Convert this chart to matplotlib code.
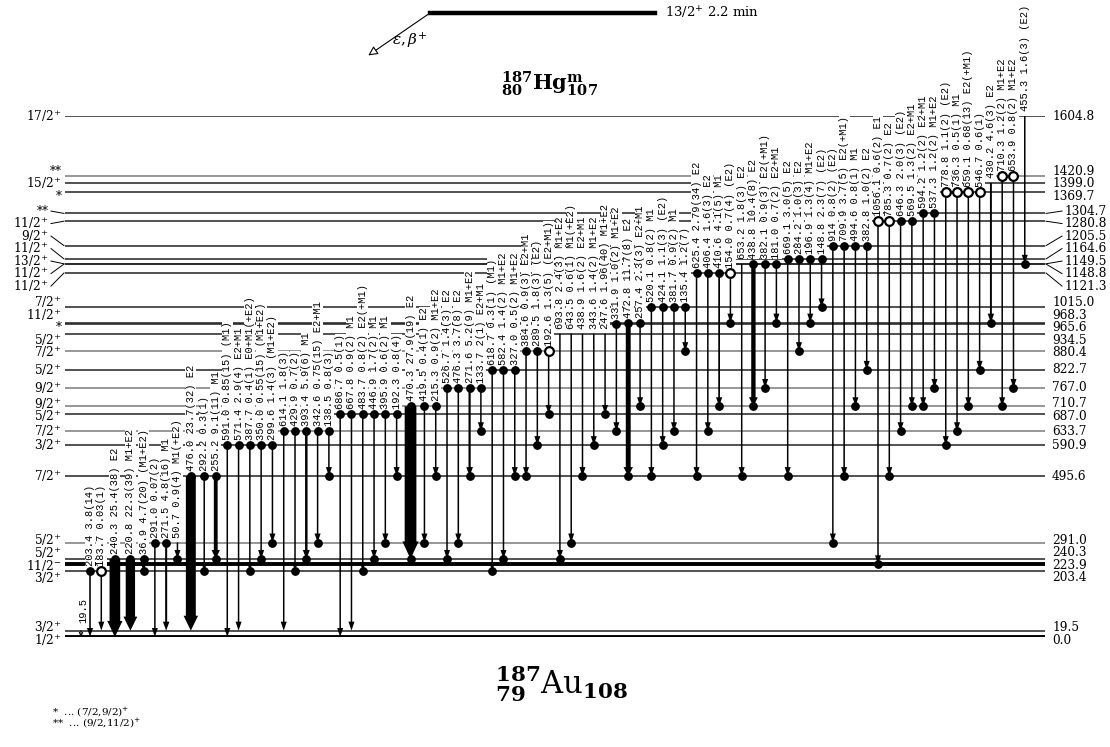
import numpy as np
import matplotlib
matplotlib.use("Agg")
import matplotlib.pyplot as plt
from matplotlib.patches import FancyArrowPatch, ArrowStyle
from matplotlib.lines import Line2D
from matplotlib import transforms

plt.rcParams["mathtext.fontset"] = "dejavuserif"

# ---- levels of 187Au (keV) and spins
level_E = [0.0, 19.5, 203.4, 223.9, 240.3, 291.0, 495.6, 590.9, 633.7, 687.0,
           710.7, 767.0, 822.7, 880.4, 934.5, 965.6, 968.3, 1015.0, 1121.3,
           1148.8, 1149.5, 1164.6, 1205.5, 1280.8, 1304.7, 1369.7, 1399.0,
           1420.9, 1604.8]
level_spin = ["1/2+", "3/2+", "3/2+", "11/2-", "5/2+", "5/2+", "7/2+", "3/2+",
              "7/2+", "5/2+", "9/2+", "9/2+", "5/2+", "7/2+", "5/2+", "*",
              "11/2+", "7/2+", "11/2+", "11/2+", "13/2+", "11/2+", "9/2+",
              "11/2+", "**", "*", "15/2+", "**", "17/2+"]
thick_levels = [0.0, 223.9]
grey_levels = [291.0, 633.7, 710.7, 767.0, 880.4, 1420.9]

# ---- gamma transitions, left to right
g_energy = ["203.4", "183.7", "240.3", "220.8", "36.9", "291.0", "271.5", "50.7",
            "476.0", "292.2", "255.2", "591.0", "571.4", "387.7", "350.0", "299.6",
            "614.1", "429.9", "393.4", "342.6", "138.5", "686.7", "667.8", "483.7",
            "446.9", "395.9", "192.3", "470.3", "419.5", "215.3", "526.7", "476.3",
            "271.6", "133.7", "618.7", "582.4", "327.0", "384.6", "289.5", "192.6",
            "693.8", "643.5", "438.9", "343.6", "247.6", "331.9", "472.8", "257.4",
            "520.1", "424.1", "381.7", "135.4", "625.4", "406.4", "410.6", "154.0",
            "653.2", "438.8", "382.1", "181.0", "669.1", "284.2", "196.9", "148.8",
            "914", "709.9", "494.6", "382.8", "1056.1", "785.3", "646.3", "569.5",
            "594.2", "537.3", "778.8", "736.3", "659.1", "546.7", "430.2", "710.3",
            "653.9", "455.3"]
g_int = ["3.8(14)", "0.03(1)", "25.4(38)", "22.3(39)", "4.7(20)", "0.07(2)", "4.8(16)",
         "0.9(4)", "23.7(32)", "0.3(1)", "9.1(11)", "0.85(15)", "2.9(4)", "0.4(1)",
         "0.55(15)", "1.4(3)", "1.8(3)", "0.7(2)", "5.9(6)", "0.75(15)", "0.8(3)",
         "0.5(1)", "0.9(2)", "0.8(2)", "1.7(2)", "0.6(2)", "0.8(4)", "27.9(19)",
         "0.4(1)", "0.9(2)", "1.4(3)", "3.7(8)", "5.2(9)", "2(1)", "0.3(1)", "1.4(2)",
         "0.5(2)", "0.9(3)", "1.8(3)", "1.3(5)", "2.4(3)", "0.6(1)", "1.6(2)", "1.4(2)",
         "1.96(40)", "1.0(2)", "11.7(8)", "2.3(3)", "0.8(2)", "1.1(3)", "0.9(2)",
         "1.2(7)", "2.79(34)", "1.6(3)", "4.1(5)", "0.7(4)", "1.8(3)", "10.4(8)",
         "0.9(3)", "0.7(2)", "3.0(5)", "1.0(3)", "1.3(4)", "2.3(7)", "0.8(2)", "3.7(5)",
         "0.8(1)", "1.0(2)", "0.6(2)", "0.7(2)", "2.0(3)", "1.3(2)", "1.2(2)", "1.2(2)",
         "1.1(2)", "0.5(1)", "0.68(13)", "0.6(1)", "4.6(3)", "1.2(2)", "0.8(2)", "1.6(3)"]
g_mult = ["", "", "E2", "M1+E2", "(M1+E2)", "", "M1", "M1(+E2)", "E2", "", "M1",
          "(M1)", "E2+M1", "E0+M1(+E2)", "(M1+E2)", "(M1+E2)", "", "", "M1", "E2+M1",
          "", "", "M1", "E2(+M1)", "M1", "M1", "", "E2", "E2", "M1+E2", "E2", "E2",
          "M1+E2", "E2+M1", "(M1)", "M1+E2", "M1+E2", "E2+M1", "(E2)", "(E2+M1)",
          "M1+E2", "M1(+E2)", "E2+M1", "M1+E2", "M1+E2", "M1+E2", "E2", "E2+M1", "M1",
          "(E2)", "M1", "", "E2", "E2", "M1", "(E2)", "E2", "E2", "E2(+M1)", "E2+M1",
          "E2", "E2", "M1+E2", "(E2)", "(E2)", "E2(+M1)", "M1", "E2", "E1", "E2", "(E2)",
          "E2+M1", "E2+M1", "M1+E2", "(E2)", "M1", "E2(+M1)", "", "E2", "M1+E2", "M1+E2",
          "(E2)"]
g_from = [203.4, 203.4, 240.3, 240.3, 240.3, 291.0, 291.0, 291.0, 495.6, 495.6, 495.6,
          590.9, 590.9, 590.9, 590.9, 590.9, 633.7, 633.7, 633.7, 633.7, 633.7,
          687.0, 687.0, 687.0, 687.0, 687.0, 687.0, 710.7, 710.7, 710.7,
          767.0, 767.0, 767.0, 767.0, 822.7, 822.7, 822.7, 880.4, 880.4, 880.4,
          934.5, 934.5, 934.5, 934.5, 934.5, 965.6, 968.3, 968.3,
          1015.0, 1015.0, 1015.0, 1015.0, 1121.3, 1121.3, 1121.3, 1121.3,
          1148.8, 1149.5, 1149.5, 1149.5, 1164.6, 1164.6, 1164.6, 1164.6,
          1205.5, 1205.5, 1205.5, 1205.5, 1280.8, 1280.8, 1280.8, 1280.8,
          1304.7, 1304.7, 1369.7, 1369.7, 1369.7, 1369.7, 1399.0, 1420.9, 1420.9, 1604.8]
g_to = [0.0, 19.5, 0.0, 19.5, 203.4, 0.0, 19.5, 240.3, 19.5, 203.4, 240.3,
        0.0, 19.5, 203.4, 240.3, 291.0, 19.5, 203.4, 240.3, 291.0, 495.6,
        0.0, 19.5, 203.4, 240.3, 291.0, 495.6, 240.3, 291.0, 495.6,
        240.3, 291.0, 495.6, 633.7, 203.4, 240.3, 495.6, 495.6, 590.9, 687.0,
        240.3, 291.0, 495.6, 590.9, 687.0, 633.7, 495.6, 710.7,
        495.6, 590.9, 633.7, 880.4, 495.6, 633.7, 710.7, 968.3,
        495.6, 710.7, 767.0, 968.3, 495.6, 880.4, 968.3, 1015.0,
        291.0, 495.6, 710.7, 822.7, 223.9, 495.6, 633.7, 710.7,
        710.7, 767.0, 590.9, 633.7, 710.7, 822.7, 968.3, 710.7, 767.0, 1149.5]
# start marker: d = filled dot, o = open circle, n = none
g_start = list("dodddddn" "ddd" "ddddd" "ddddd" "dddddd" "ddd" "dddd" "ddd" "ddo"
               "nnnnn" "d" "dd" "dddd" "dddo" "nddd" "dddd" "dddd" "oodd" "dd"
               "oooo" "n" "oo" "n")

parent_label = "13/2$^{+}$ 2.2 min"
footnotes = ["*  ... (7/2,9/2)$^{+}$", "**  ... (9/2,11/2)$^{+}$"]

# ---- figure
W, H = 1110, 747
DPI = 100
PXPT = DPI / 72.0
fig = plt.figure(figsize=(W / DPI, H / DPI), dpi=DPI)
y_ground, y_top = 637, 116
ax = fig.add_axes([0, 1 - y_ground / H, 1, (y_ground - y_top) / H])
ax.set_xlim(0, W)
ax.set_ylim(0, max(level_E))
ax.axis("off")

x_left, x_right = 65, 1045

# levels
for E in level_E:
    if E in thick_levels:
        ax.hlines(E, x_left, x_right, color="black", lw=2.8, zorder=1)
    elif E in grey_levels:
        ax.hlines(E, x_left, x_right, color="#7a7a7a", lw=1.1, zorder=1)
    else:
        ax.hlines(E, x_left, x_right, color="#222222", lw=1.1, zorder=1)


def spread(y, gap):
    order = np.argsort(y)
    p = np.asarray(y, float)[order].copy()
    for _ in range(3000):
        moved = False
        for i in range(len(p) - 1):
            d = p[i + 1] - p[i]
            if d < gap - 1e-4:
                m = (gap - d) / 2
                p[i] -= m
                p[i + 1] += m
                moved = True
        if not moved:
            break
    out = np.empty_like(p)
    out[order] = p
    return out


def fanned(t, p, gap, lim=9.0):
    order = np.argsort(p)
    flags = np.zeros(len(p), bool)
    groups, cur = [], [order[0]]
    for a, b in zip(order[:-1], order[1:]):
        if p[b] - p[a] > gap + 0.5:
            groups.append(cur)
            cur = []
        cur.append(b)
    groups.append(cur)
    for g in groups:
        if np.max(np.abs(p[g] - t[g])) > lim:
            flags[g] = True
    return flags


ty = ax.transData.transform(np.c_[np.zeros(len(level_E)), level_E])[:, 1]
inv = ax.transData.inverted()


def to_data(py):
    return inv.transform(np.c_[np.zeros(len(py)), py])[:, 1]


# left spin labels
gap_l = 12.5
pl = spread(ty, gap_l)
fl = fanned(ty, pl, gap_l)
yl = to_data(pl)
for E, s, y, f in zip(level_E, level_spin, yl, fl):
    if s.startswith("*"):
        txt = s
    else:
        txt = s[:-1] + "$^{" + s[-1] + "}$"
    xr = 49 if f else 62
    if f:
        ax.plot([64, 51], [E, y], color="black", lw=0.7, clip_on=False)
    ax.text(xr, y, txt, ha="right", va="center", fontsize=8.7,
            family="DejaVu Serif", clip_on=False)

# right energy labels
gap_r = 12.5
pr = spread(ty, gap_r)
fr = fanned(ty, pr, gap_r)
yr = to_data(pr)
for E, y, f in zip(level_E, yr, fr):
    xl = 1065 if f else 1052
    if f:
        ax.plot([1046, 1062], [E, y], color="black", lw=0.7, clip_on=False)
    ax.text(xl, y, f"{E:.1f}", ha="left", va="center", fontsize=8.7,
            family="DejaVu Serif", clip_on=False)

# transition geometry
I_val = np.array([float(s.split("(")[0]) for s in g_int])
tail = np.maximum(1.5, 0.42 * I_val)
extra = np.maximum(0, tail - 3)
steps = 11.29 + 0.3 * (extra[:-1] + extra[1:])
xs = 90 + np.r_[0, np.cumsum(steps)]

lab_tr = transforms.offset_copy(ax.transData, fig=fig, x=0, y=5, units="dots")
end_x, end_y = [], []
for x, e, it, m, Ei, Ef, st, tw in zip(xs, g_energy, g_int, g_mult, g_from, g_to,
                                       g_start, tail):
    hw = tw + 4.5
    hl = max(9.0, tw * 1.5)
    arr = FancyArrowPatch((x, Ei), (x, Ef),
                          arrowstyle=ArrowStyle.Simple(head_length=hl / PXPT,
                                                       head_width=hw / PXPT,
                                                       tail_width=tw / PXPT),
                          mutation_scale=1, shrinkA=0, shrinkB=0,
                          fc="black", ec="none", lw=0, zorder=4)
    ax.add_patch(arr)
    if st == "d":
        ax.plot(x, Ei, "o", ms=5.3, color="black", zorder=5)
    elif st == "o":
        ax.plot(x, Ei, "o", ms=6.3, mfc="white", mec="black", mew=1.6, zorder=5)
    if Ef not in (0.0, 19.5):
        end_x.append(x)
        end_y.append(Ef)
    label = " ".join(t for t in (e, it, m) if t)
    ax.text(x, Ei, label, rotation=90, ha="center", va="bottom", transform=lab_tr,
            fontsize=7.5, family="Liberation Mono", zorder=3, clip_on=False,
            bbox=dict(fc="white", ec="none", pad=0.3))
ax.plot(end_x, end_y, "o", ms=5.3, color="black", ls="none", zorder=5)

# 19.5 keV transition
x19 = xs[0] - 9
ax.annotate("", xy=(x19, 0.0), xytext=(x19, 19.5),
            arrowprops=dict(arrowstyle="->", lw=0.8, mutation_scale=6,
                            shrinkA=0, shrinkB=0), zorder=4)
ax.text(x19 + 2, 19.5, "19.5", rotation=90, ha="center", va="bottom",
        transform=transforms.offset_copy(ax.transData, fig=fig, x=0, y=8, units="dots"),
        fontsize=7.5, family="Liberation Mono", zorder=3)


def fx(px):
    return px / W


def fy(py):
    return 1 - py / H


# parent level
fig.add_artist(Line2D([fx(430), fx(655)], [fy(13), fy(13)], color="black", lw=3.2))
fig.text(fx(665), fy(13), parent_label, ha="left", va="center", fontsize=9.5,
         family="DejaVu Serif")
fig.add_artist(FancyArrowPatch((fx(430), fy(13)), (fx(366), fy(57)),
                               transform=fig.transFigure, arrowstyle="-|>",
                               mutation_scale=14, fc="white", ec="black", lw=0.8))
fig.text(fx(392), fy(40), r"$\epsilon,\beta^{+}$", ha="left", va="center", fontsize=11)

fig.text(fx(550), fy(84), r"${}^{\mathbf{187}}_{\mathbf{80}}\mathbf{Hg}^{\mathbf{m}}_{\mathbf{107}}$",
         ha="center", va="center", fontsize=15)
fig.text(fx(562), fy(684), r"${}^{\mathbf{187}}_{\mathbf{79}}\mathrm{Au}_{\mathbf{108}}$",
         ha="center", va="center", fontsize=22)

fig.text(fx(52), fy(712), footnotes[0], ha="left", va="center", fontsize=7.5,
         family="DejaVu Serif")
fig.text(fx(52), fy(723), footnotes[1], ha="left", va="center", fontsize=7.5,
         family="DejaVu Serif")

fig.savefig("out.png", dpi=DPI, facecolor="white")
